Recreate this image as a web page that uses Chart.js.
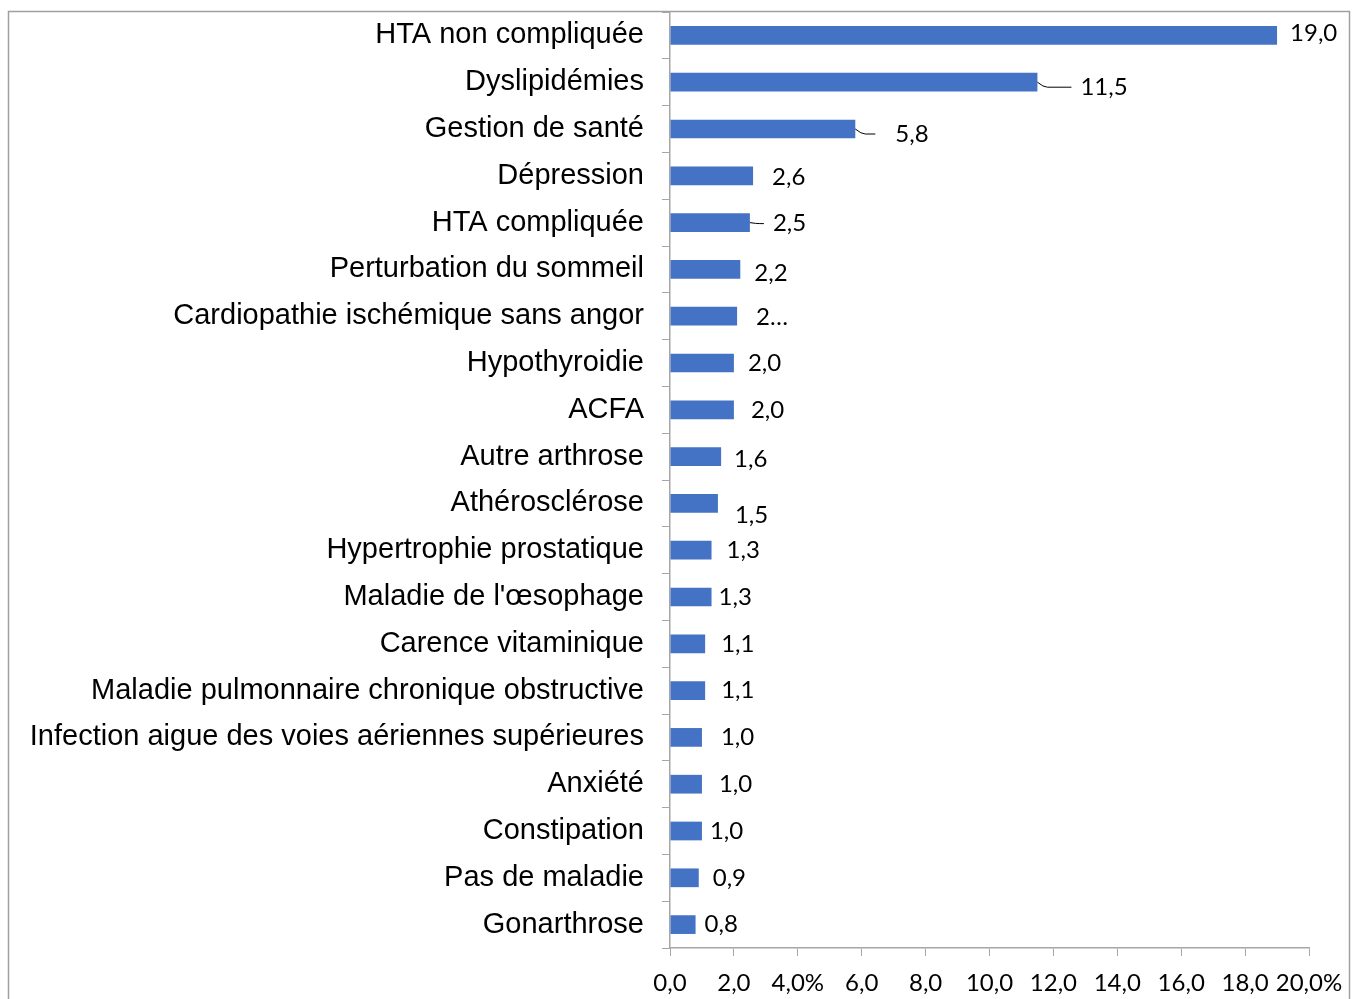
<!DOCTYPE html>
<html>
<head>
<meta charset="utf-8">
<script src="https://cdn.jsdelivr.net/npm/chart.js@4"></script>
<style>
  html, body { margin: 0; padding: 0; background: #fff; }
  #wrap { position: absolute; left: 0; top: 0; width: 1363px; height: 999px; }
</style>
</head>
<body>
<div id="wrap"><canvas id="chart" width="1363" height="999"></canvas></div>
<script>
      // ---------- Data ----------
      const categories = [
        "HTA non compliquée",
        "Dyslipidémies",
        "Gestion de santé",
        "Dépression",
        "HTA compliquée",
        "Perturbation du sommeil",
        "Cardiopathie ischémique sans angor",
        "Hypothyroidie",
        "ACFA",
        "Autre arthrose",
        "Athérosclérose",
        "Hypertrophie prostatique",
        "Maladie de l'œsophage",
        "Carence vitaminique",
        "Maladie pulmonnaire chronique obstructive",
        "Infection aigue des voies aériennes supérieures",
        "Anxiété",
        "Constipation",
        "Pas de maladie",
        "Gonarthrose",
      ];
      const values = [19.0, 11.5, 5.8, 2.6, 2.5, 2.2, 2.1, 2.0, 2.0, 1.6, 1.5, 1.3, 1.3, 1.1, 1.1, 1.0, 1.0, 1.0, 0.9, 0.8];
      // text shown next to each bar (one is cut off in the original)
      const valueLabels = ["19,0", "11,5", "5,8", "2,6", "2,5", "2,2", "2…", "2,0", "2,0", "1,6", "1,5", "1,3", "1,3", "1,1", "1,1", "1,0", "1,0", "1,0", "0,9", "0,8"];
      const xTicks = ["0,0", "2,0", "4,0%", "6,0", "8,0", "10,0", "12,0", "14,0", "16,0", "18,0", "20,0%"];

      // label offsets from bar end (px) and leader lines (index -> gap before label)
      const labelDx = [13, 43, 40, 19, 23, 14, 19, 14, 17, 13, 17, 15, 7, 16, 16, 19, 17, 8, 14, 9];
      const labelDy = [-2, 5, 5, 1, 1, 4, 1, 0, 0, 3, 12, 0, 0, 0, 0, 0, 0, 0, 0, 0];
      const leaderGap = { 1: 9, 2: 20, 4: 9 };

      const axisGray = "#a6a6a6";

      // ---------- Plugins ----------
      const frame = {
        id: "frame",
        beforeDraw(chart) {
          const ctx = chart.ctx;
          ctx.save();
          ctx.strokeStyle = "#a0a0a0";
          ctx.lineWidth = 1.5;
          ctx.beginPath();
          ctx.moveTo(8.5, 1000);
          ctx.lineTo(8.5, 11.5);
          ctx.lineTo(1349.5, 11.5);
          ctx.lineTo(1349.5, 1000);
          ctx.stroke();
          ctx.restore();
        },
      };

      const barLabels = {
        id: "barLabels",
        afterDatasetsDraw(chart) {
          const ctx = chart.ctx;
          const meta = chart.getDatasetMeta(0);
          ctx.save();
          ctx.font = "24px Lato, 'Open Sans', sans-serif";
          ctx.fillStyle = "#000";
          ctx.textBaseline = "middle";
          ctx.textAlign = "left";
          meta.data.forEach((bar, i) => {
            const lx = bar.x + labelDx[i];
            const ly = bar.y + labelDy[i];
            if (leaderGap[i] !== undefined) {
              ctx.strokeStyle = "#000";
              ctx.lineWidth = 1;
              ctx.beginPath();
              ctx.moveTo(bar.x, bar.y);
              ctx.quadraticCurveTo(bar.x + 6, ly, bar.x + 10, ly);
              ctx.lineTo(lx - leaderGap[i], ly);
              ctx.stroke();
            }
            ctx.fillText(valueLabels[i], lx, ly);
          });
          ctx.restore();
        },
      };

      // ---------- Chart ----------
      new Chart(document.getElementById("chart"), {
        type: "bar",
        data: {
          labels: categories,
          datasets: [{
            data: values,
            backgroundColor: "#4472C4",
            borderWidth: 0,
            barPercentage: 0.4,
            categoryPercentage: 1,
          }],
        },
        plugins: [frame, barLabels],
        options: {
          indexAxis: "y",
          responsive: false,
          animation: false,
          layout: { padding: { left: 0, top: 12, right: 54, bottom: 0 } },
          plugins: { legend: { display: false }, tooltip: { enabled: false } },
          scales: {
            x: {
              min: 0,
              max: 20,
              ticks: {
                stepSize: 2,
                autoSkip: false,
                color: "#000",
                padding: 13,
                maxRotation: 0,
                font: { family: "Lato, 'Open Sans', sans-serif", size: 24 },
                callback: (v, i) => xTicks[i],
              },
              grid: { drawOnChartArea: false, tickLength: 8, color: axisGray },
              border: { display: true, color: axisGray, width: 1.5 },
              afterFit: (s) => { s.height = 51; s.paddingLeft = 0; s.paddingRight = 0; },
            },
            y: {
              ticks: {
                color: "#000",
                padding: 18,
                autoSkip: false,
                font: { family: "'Liberation Sans', Arial, sans-serif", size: 29 },
              },
              grid: { drawOnChartArea: false, tickLength: 8, color: axisGray, offset: true },
              border: { display: true, color: axisGray, width: 1.5 },
              afterFit: (s) => { s.width = 670; s.paddingTop = 0; s.paddingBottom = 0; },
            },
          },
        },
      });
</script>
</body>
</html>
